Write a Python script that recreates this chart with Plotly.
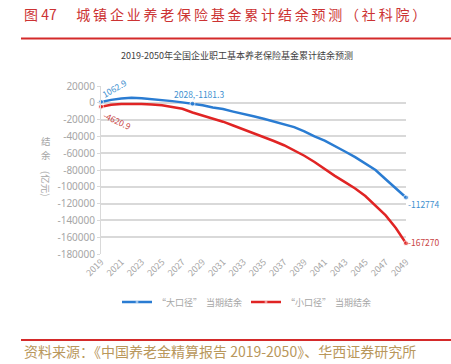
import plotly.graph_objects as go

years = list(range(2019, 2050))
big_caliber = [1062.9, 3500, 5000, 6000, 5500, 4500, 3500, 2000, 500, -1181.3,
               -3000, -5500, -7500, -10500, -13000, -16000, -19000, -22500, -25500, -29000,
               -34000, -40000, -45000, -51000, -58000, -64700, -72000, -80000, -91000, -102000,
               -112774]
small_caliber = [-4620.9, -2400, -1500, -1200, -1500, -2000, -3000, -5000, -7100, -11500,
                 -15000, -18500, -22500, -27000, -31500, -36500, -41000, -45500, -50500, -56500,
                 -63000, -70500, -79000, -87000, -94500, -102000, -111000, -122000, -134000, -149000,
                 -167270]
big_name = "“大口径”  当期结余"
small_name = "“小口径”  当期结余"
y_ticks = [20000, 0, -20000, -40000, -60000, -80000, -100000, -120000, -140000, -160000, -180000]
x_ticks = list(range(2019, 2050, 2))

W, H = 451, 364
L, R, T, B = 101, 406, 86, 254
def px(x):
    return (x - L) / (R - L)
def py(y):
    return (B - y) / (B - T)

BLUE = "#2a7cd2"
RED = "#e02424"
BLUE_T = "#3d8fcf"
RED_T = "#c94444"
GRAY = "#a6a6a6"
FONT = "Noto Sans CJK SC"

def mark_sizes(n, idx):
    return [5 if i in idx else 0 for i in range(n)]

fig = go.Figure()
fig.add_trace(go.Scatter(x=years, y=big_caliber, name=big_name, mode="lines+markers",
                         line=dict(color=BLUE, width=2.5),
                         marker=dict(color=BLUE, size=mark_sizes(len(years), {0, 9, len(years) - 1})),
                         cliponaxis=False))
fig.add_trace(go.Scatter(x=years, y=small_caliber, name=small_name, mode="lines+markers",
                         line=dict(color=RED, width=2.5),
                         marker=dict(color=RED, size=mark_sizes(len(years), {0, len(years) - 1})),
                         cliponaxis=False))

ann = []
lab_font = dict(family=FONT, size=8.5)
ann.append(dict(x=years[0], y=big_caliber[0], text=f"{big_caliber[0]}", showarrow=False,
                xshift=13, yshift=14, textangle=-30, font=dict(lab_font, color=BLUE_T)))
ann.append(dict(x=years[9], y=big_caliber[9], text=f"{years[9]},{big_caliber[9]}", showarrow=False,
                xshift=6, yshift=10, font=dict(lab_font, color=BLUE_T)))
ann.append(dict(x=years[0], y=small_caliber[0], text=f"{small_caliber[0]}", showarrow=False,
                xshift=16, yshift=-13, textangle=25, font=dict(lab_font, color=RED_T)))
ann.append(dict(x=years[-1], y=big_caliber[-1], text=f"{big_caliber[-1]}", showarrow=False,
                xanchor="left", xshift=0, yshift=-6, font=dict(lab_font, color=BLUE_T)))
ann.append(dict(x=years[-1], y=small_caliber[-1], text=f"{small_caliber[-1]}", showarrow=False,
                xanchor="left", xshift=0, yshift=1, font=dict(lab_font, color=RED_T)))

# header & footer
header = "图 47\u2003\u2009\u2009" + "\u2009".join("城镇企业养老保险基金累计结余预测（社科院）")
ann.append(dict(xref="paper", yref="paper", x=px(22), y=py(14), xanchor="left", yanchor="middle",
                text=header, showarrow=False, font=dict(family=FONT, size=14, color="#cc3333")))
ann.append(dict(xref="paper", yref="paper", x=px(237), y=py(56), xanchor="center", yanchor="middle",
                text="2019-2050年全国企业职工基本养老保险基金累计结余预测", showarrow=False,
                font=dict(family=FONT, size=9, color="#404040")))
ann.append(dict(xref="paper", yref="paper", x=px(22), y=py(351), xanchor="left", yanchor="middle",
                text="资料来源：《中国养老金精算报告 2019-2050》、华西证券研究所", showarrow=False,
                font=dict(family=FONT, size=14, color="#b9975b")))
# y axis title
ann.append(dict(xref="paper", yref="paper", x=px(46), y=py(141), xanchor="center", yanchor="middle",
                text="结", showarrow=False, font=dict(family=FONT, size=9.5, color=GRAY)))
ann.append(dict(xref="paper", yref="paper", x=px(46), y=py(155), xanchor="center", yanchor="middle",
                text="余", showarrow=False, font=dict(family=FONT, size=9.5, color=GRAY)))
ann.append(dict(xref="paper", yref="paper", x=px(46), y=py(183), xanchor="center", yanchor="middle",
                text="(亿元)", textangle=90, showarrow=False, font=dict(family=FONT, size=9.5, color=GRAY)))

shapes = [
    dict(type="line", xref="paper", yref="paper", x0=px(21), x1=px(451), y0=py(38.5), y1=py(38.5),
         line=dict(color="#d42a2a", width=2)),
    dict(type="line", xref="paper", yref="paper", x0=px(21), x1=px(451), y0=py(340), y1=py(340),
         line=dict(color="#d42a2a", width=2)),
]

fig.update_layout(
    width=W, height=H,
    margin=dict(l=L, r=W - R, t=T, b=H - B, pad=0),
    paper_bgcolor="white", plot_bgcolor="white",
    font=dict(family=FONT, color=GRAY),
    showlegend=True,
    legend=dict(orientation="h", x=px(117), y=py(302), xanchor="left", yanchor="middle",
                font=dict(family=FONT, size=9), itemwidth=30, entrywidth=84,
                bgcolor="rgba(0,0,0,0)"),
    annotations=ann,
    shapes=shapes,
)
fig.update_xaxes(range=[2019, 2049], tickvals=x_ticks, ticktext=[str(v) for v in x_ticks],
                 tickangle=-45, tickfont=dict(family=FONT, size=9, color=GRAY),
                 showgrid=False, zeroline=False, showline=False, ticks="")
fig.update_yaxes(range=[-180000, 20000], tickvals=y_ticks, ticktext=[str(v) for v in y_ticks],
                 tickfont=dict(family="Noto Sans", size=10, color=GRAY),
                 showgrid=True, gridcolor="#d9d9d9", gridwidth=1.5, zeroline=False,
                 showline=True, linecolor="#d9d9d9", linewidth=1, ticks="outside", ticklen=3,
                 tickcolor="#d9d9d9")

fig.write_html("out.html", config={"displayModeBar": False},
               post_script="document.body.style.margin='0';document.body.style.overflow='hidden';")
